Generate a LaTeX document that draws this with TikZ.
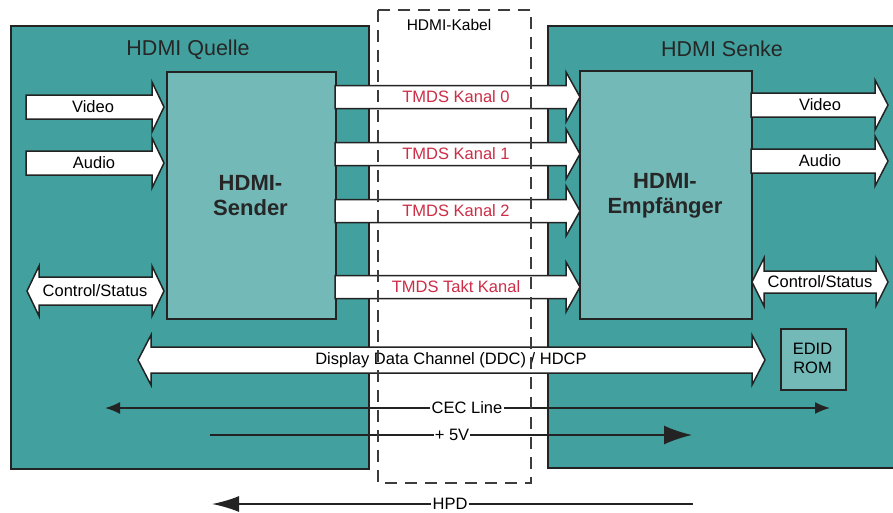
\documentclass[tikz,border=0pt]{standalone}
\usepackage{fontspec}
\setmainfont{Liberation Sans}
\usetikzlibrary{arrows.meta}
\definecolor{outerteal}{RGB}{66,160,158}
\definecolor{innerteal}{RGB}{114,185,183}
\definecolor{tmdsred}{RGB}{205,45,70}
\definecolor{linedark}{RGB}{35,35,35}
\definecolor{cablegray}{RGB}{60,60,60}
% fat right arrow: x1 x2 yc halfbody halfhead headlen
\newcommand\fatR[6]{%
  \filldraw[fatarrow] (#1,{#3-#4}) -- ({#2-#6},{#3-#4}) -- ({#2-#6},{#3-#5}) -- (#2,#3)
    -- ({#2-#6},{#3+#5}) -- ({#2-#6},{#3+#4}) -- (#1,{#3+#4}) -- cycle;}
% fat double arrow
\newcommand\fatLR[6]{%
  \filldraw[fatarrow] (#1,#3) -- ({#1+#6},{#3-#5}) -- ({#1+#6},{#3-#4}) -- ({#2-#6},{#3-#4})
    -- ({#2-#6},{#3-#5}) -- (#2,#3) -- ({#2-#6},{#3+#5}) -- ({#2-#6},{#3+#4})
    -- ({#1+#6},{#3+#4}) -- ({#1+#6},{#3+#5}) -- cycle;}
\tikzset{
  outerbox/.style={fill=outerteal, draw=linedark, line width=2.2pt, anchor=north west, inner sep=0pt},
  innerbox/.style={fill=innerteal, draw=linedark, line width=1.6pt, anchor=north west, inner sep=0pt},
  fatarrow/.style={fill=white, draw=linedark, line width=1.5pt, line join=miter},
  lbl/.style={font=\fontsize{16.5}{19}\selectfont, text=black, inner sep=1pt},
  tmds/.style={lbl, text=tmdsred},
  titletext/.style={font=\fontsize{21.5}{25}\selectfont, text=black!85},
  boldtext/.style={font=\bfseries\fontsize{22}{25}\selectfont, align=center, text=black!85},
  thinline/.style={draw=linedark, line width=1.8pt},
  cable/.style={draw=cablegray, line width=1.8pt, dash pattern=on 12pt off 8pt}
}
\begin{document}
\begin{tikzpicture}[x=1pt,y=-1pt]
\useasboundingbox (0,0) rectangle (893,512);
\fill[white] (0,0) rectangle (893,512);
% outer boxes
\node[outerbox, minimum width=358pt, minimum height=443pt] (quelle) at (10,25) {};
\node[outerbox, minimum width=370pt, minimum height=442pt] (senke) at (547,25) {};
\node[titletext] (tq) at (188,50) {HDMI Quelle};
\node[titletext] (ts) at (722,49) {HDMI Senke};
% inner boxes
\node[innerbox, minimum width=169pt, minimum height=247pt] (sender) at (166,71) {};
\node[boldtext] (sendertxt) at (250.5,196) {HDMI-\\Sender};
\node[innerbox, minimum width=172pt, minimum height=248pt] (empf) at (579,70) {};
\node[boldtext] (empftxt) at (665,196) {HDMI-\\Empfänger};
\node[innerbox, minimum width=65pt, minimum height=61pt] (edid) at (780,328) {};
\node[lbl, align=center, font=\fontsize{16.5}{19}\selectfont] (edidtxt) at (812.5,358.5) {EDID\\ROM};
% left side fat arrows
\fatR{26}{164}{107}{12}{25}{12}
\node[lbl] (vidL) at (93,107) {Video};
\fatR{26}{164}{163}{12}{25}{12}
\node[lbl] (audL) at (94,163) {Audio};
\fatLR{27}{164}{291}{14}{25}{12}
\node[lbl] (csL) at (95,291) {Control/Status};
% TMDS channels
\fatR{335}{580}{97}{11.5}{25}{14}
\node[tmds] (t0) at (456,97) {TMDS Kanal 0};
\fatR{335}{580}{154}{11.5}{25}{14}
\node[tmds] (t1) at (456,154) {TMDS Kanal 1};
\fatR{335}{580}{211}{11.5}{25}{14}
\node[tmds] (t2) at (456,211) {TMDS Kanal 2};
\fatR{335}{580}{287}{11.5}{25}{14}
\node[tmds] (tt) at (456,287) {TMDS Takt Kanal};
% right side fat arrows
\fatR{751}{888}{105}{12}{25}{13}
\node[lbl] (vidR) at (820,105) {Video};
\fatR{751}{888}{161}{12}{25}{13}
\node[lbl] (audR) at (820,161) {Audio};
\fatLR{752}{888}{282}{11}{24}{12}
\node[lbl] (csR) at (820,282) {Control/Status};
% DDC
\fatLR{138}{765}{360}{13}{25}{13}
\node[lbl] (ddc) at (451,360) {Display Data Channel (DDC) / HDCP};
% thin lines
\coordinate (cecL) at (105,408);
\coordinate (cecR) at (830,408);
\node[lbl, fill=white] (cec) at (467,408) {CEC Line};
\draw[thinline, -{Latex[length=15pt,width=12pt]}] (cec.west) -- (cecL);
\draw[thinline, -{Latex[length=15pt,width=12pt]}] (cec.east) -- (cecR);
\coordinate (vL) at (210,435);
\coordinate (vR) at (692,435);
\node[lbl, fill=white] (v5) at (452,435) {+ 5V};
\draw[thinline] (vL) -- (v5.west);
\draw[thinline, -{Latex[length=28pt,width=19pt]}] (v5.east) -- (vR);
\coordinate (hL) at (212,504);
\coordinate (hR) at (693,504);
\node[lbl, fill=white] (hpd) at (450,504) {HPD};
\draw[thinline, -{Latex[length=27pt,width=16pt]}] (hpd.west) -- (hL);
\draw[thinline] (hpd.east) -- (hR);
% cable
\draw[cable] (378,10) rectangle (531,483);
\node[lbl, font=\fontsize{15.5}{18}\selectfont] (kabel) at (449,25) {HDMI-Kabel};
\end{tikzpicture}
\end{document}
